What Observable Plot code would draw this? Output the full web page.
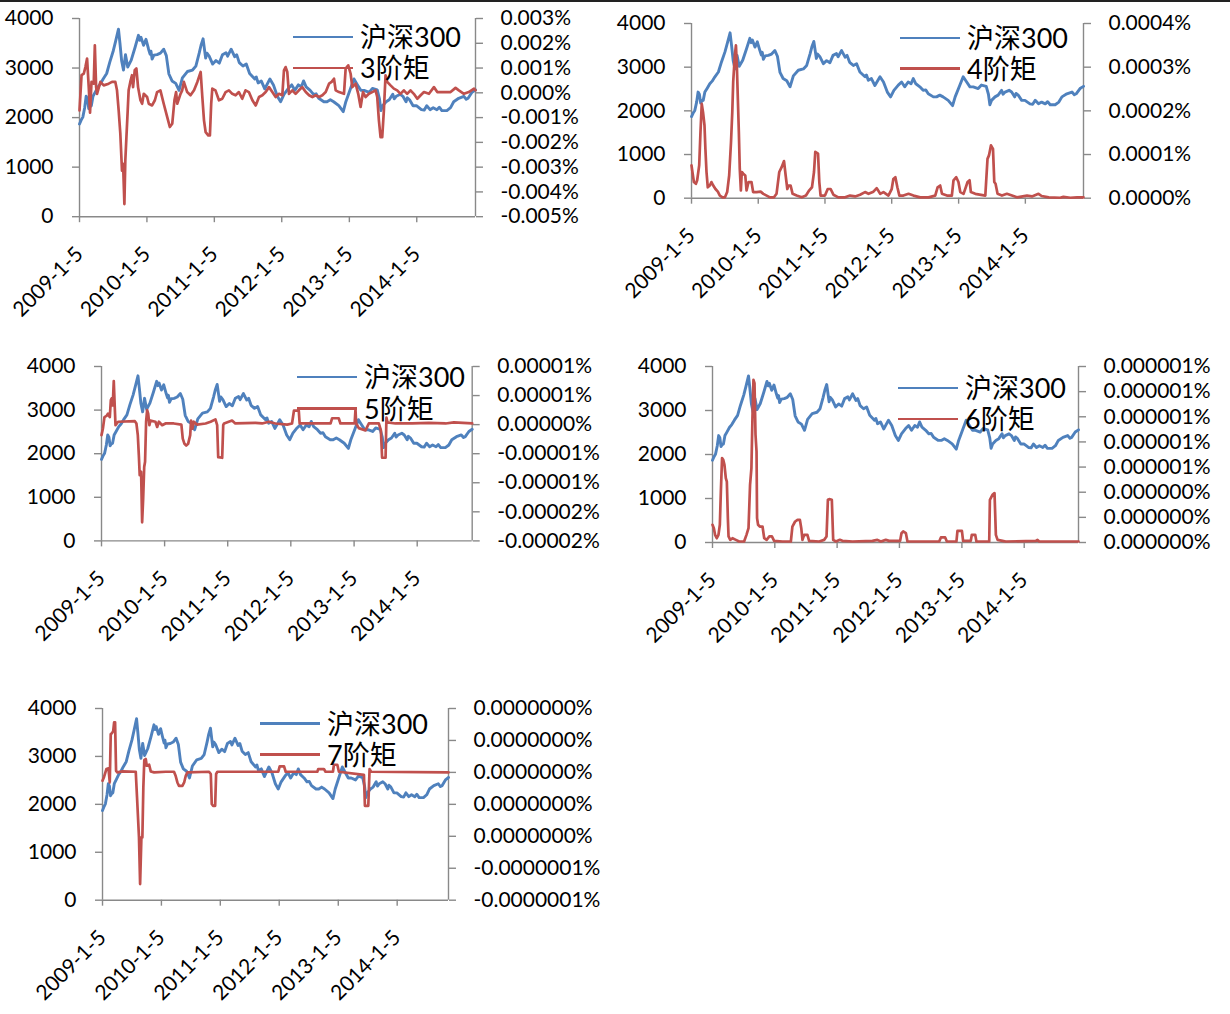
<!DOCTYPE html>
<html><head><meta charset="utf-8">
<script src="https://cdn.jsdelivr.net/npm/d3@7"></script>
<script src="https://cdn.jsdelivr.net/npm/@observablehq/plot@0.6"></script>
<style>
body{margin:0;background:#fff;}
#page{position:relative;width:1230px;height:1014px;overflow:hidden;background:#fff;font-family:Lato,"Noto Sans CJK SC",sans-serif;}
#topline{position:absolute;left:0;top:0;width:1230px;height:2px;background:#222;}
.lg{position:absolute;display:flex;align-items:center;height:34px;white-space:nowrap;}
.lg .sw{width:60px;height:2.8px;margin-right:7px;}
.lg .tx{font-size:27px;line-height:34px;color:#000;font-family:Lato,"Noto Sans CJK SC",sans-serif;}
</style></head>
<body><div id="page"><div id="topline"></div></div>
<script>
// ---------- data ----------
const xTickDates = ["2009-01-05","2010-01-05","2011-01-05","2012-01-05","2013-01-05","2014-01-05"];
const leftTicks = [0,1000,2000,3000,4000];
const seriesNames = ["沪深300","3阶矩","4阶矩","5阶矩","6阶矩","7阶矩"];

const csi300 = [["2009-01-05",1870],["2009-01-14",1950],["2009-01-23",2010],["2009-02-02",2200],["2009-02-10",2430],["2009-02-17",2380],["2009-02-24",2180],["2009-03-02",2220],["2009-03-10",2240],["2009-03-19",2430],["2009-04-01",2520],["2009-04-15",2620],["2009-04-28",2680],["2009-05-13",2780],["2009-06-01",2890],["2009-06-18",3120],["2009-07-07",3350],["2009-07-20",3550],["2009-08-04",3786],["2009-08-12",3500],["2009-08-21",3150],["2009-08-31",2960],["2009-09-11",3270],["2009-09-23",3020],["2009-10-12",3160],["2009-11-02",3420],["2009-11-20",3660],["2009-11-27",3560],["2009-12-04",3620],["2009-12-18",3460],["2009-12-31",3580],["2010-01-14",3380],["2010-01-22",3280],["2010-01-27",3340],["2010-02-02",3180],["2010-02-12",3260],["2010-03-01",3270],["2010-03-19",3300],["2010-04-06",3380],["2010-04-20",3250],["2010-05-04",2880],["2010-05-21",2740],["2010-06-10",2690],["2010-06-28",2550],["2010-07-16",2800],["2010-08-12",2930],["2010-09-09",2960],["2010-09-27",3040],["2010-10-15",3300],["2010-10-25",3460],["2010-11-05",3590],["2010-11-19",3200],["2010-11-26",3300],["2010-12-08",3240],["2010-12-27",3080],["2011-01-14",3150],["2011-02-01",3100],["2011-02-18",3270],["2011-03-09",3310],["2011-03-18",3240],["2011-04-06",3380],["2011-04-25",3230],["2011-05-06",3270],["2011-05-20",3110],["2011-06-09",3040],["2011-06-27",3080],["2011-07-15",2890],["2011-08-12",2780],["2011-08-20",2820],["2011-08-30",2700],["2011-09-16",2740],["2011-10-05",2580],["2011-11-02",2780],["2011-11-21",2660],["2011-12-12",2430],["2011-12-30",2320],["2012-01-17",2470],["2012-02-10",2590],["2012-02-28",2660],["2012-03-16",2550],["2012-04-04",2660],["2012-04-20",2620],["2012-05-02",2740],["2012-05-16",2620],["2012-06-07",2550],["2012-06-25",2470],["2012-07-09",2480],["2012-07-23",2390],["2012-08-20",2320],["2012-09-06",2320],["2012-09-24",2360],["2012-10-12",2320],["2012-11-09",2240],["2012-12-03",2120],["2012-12-17",2320],["2013-01-11",2580],["2013-01-30",2780],["2013-02-18",2660],["2013-03-08",2550],["2013-03-26",2550],["2013-04-22",2510],["2013-05-10",2590],["2013-06-05",2560],["2013-06-17",2380],["2013-06-25",2140],["2013-07-04",2240],["2013-07-23",2320],["2013-08-09",2360],["2013-08-28",2470],["2013-09-05",2380],["2013-09-16",2430],["2013-10-08",2470],["2013-10-22",2430],["2013-11-08",2320],["2013-11-15",2400],["2013-11-27",2360],["2013-12-16",2240],["2014-01-03",2240],["2014-01-30",2160],["2014-02-14",2150],["2014-02-28",2240],["2014-03-18",2160],["2014-04-04",2200],["2014-04-24",2160],["2014-05-07",2210],["2014-05-21",2140],["2014-06-17",2140],["2014-07-07",2200],["2014-07-24",2320],["2014-08-20",2390],["2014-09-17",2430],["2014-09-30",2370],["2014-10-10",2390],["2014-10-31",2510],["2014-11-19",2560]];

// 3rd moment, unit 0.001%
const m3 = [["2009-01-05",-0.71],["2009-01-16",0.71],["2009-01-28",0.77],["2009-02-06",1.04],["2009-02-15",1.38],["2009-02-24",0.23],["2009-03-03",-0.8],["2009-03-11",0.44],["2009-03-23",0.37],["2009-03-29",1.92],["2009-04-05",0.23],["2009-04-10",-0.04],["2009-04-28",0.44],["2009-05-16",0.30],["2009-06-12",0.37],["2009-06-30",0.44],["2009-07-18",0.44],["2009-07-27",0.10],["2009-08-05",-0.71],["2009-08-14",-1.65],["2009-08-23",-3.14],["2009-08-29",-2.87],["2009-09-05",-4.49],["2009-09-10",-2.73],["2009-09-16",-1.79],["2009-09-23",-0.71],["2009-09-28",0.10],["2009-10-07",0.44],["2009-10-16",0.71],["2009-10-22",0.23],["2009-10-31",0.91],["2009-11-09",0.98],["2009-11-18",0.23],["2009-12-01",-0.30],["2009-12-10",-0.44],["2009-12-19",-0.04],["2010-01-06",-0.17],["2010-01-15",-0.44],["2010-02-02",-0.51],["2010-02-17",-0.30],["2010-03-01",0.03],["2010-03-19",0.10],["2010-04-06",-0.44],["2010-04-25",-0.98],["2010-05-09",-1.38],["2010-05-22",-1.25],["2010-06-03",-0.30],["2010-06-12",0.03],["2010-06-18",-0.44],["2010-07-06",-0.04],["2010-07-15",0.10],["2010-07-24",0.44],["2010-08-11",0.03],["2010-08-29",-0.10],["2010-09-17",0.10],["2010-10-05",0.44],["2010-10-23",0.84],["2010-11-01",-0.17],["2010-11-10",-1.11],["2010-11-19",-1.59],["2010-12-03",-1.72],["2010-12-12",-1.72],["2010-12-19",-0.44],["2010-12-25",0.17],["2011-01-11",0.10],["2011-01-30",-0.30],["2011-02-17",-0.24],["2011-03-07",0.03],["2011-03-25",0.10],["2011-04-12",-0.04],["2011-04-30",-0.10],["2011-05-18",0.03],["2011-06-05",-0.24],["2011-06-23",0.10],["2011-07-11",0.03],["2011-07-30",-0.30],["2011-08-17",-0.51],["2011-09-04",-0.17],["2011-09-22",-0.10],["2011-10-10",0.03],["2011-10-28",0.23],["2011-11-15",0.03],["2011-12-03",-0.17],["2011-12-21",-0.04],["2012-01-08",-0.10],["2012-01-17",0.91],["2012-01-26",1.04],["2012-02-04",0.84],["2012-02-13",-0.04],["2012-03-02",0.10],["2012-03-20",-0.04],["2012-04-07",0.10],["2012-04-25",0.23],["2012-05-14",0.03],["2012-06-01",-0.10],["2012-06-19",-0.17],["2012-07-07",-0.10],["2012-07-25",-0.17],["2012-08-12",-0.10],["2012-08-30",0.03],["2012-09-17",0.37],["2012-10-01",0.44],["2012-10-14",0.57],["2012-10-23",0.10],["2012-11-10",0.03],["2012-12-07",-0.04],["2012-12-16",0.98],["2012-12-30",1.11],["2013-01-12",0.77],["2013-01-21",0.23],["2013-02-08",0.37],["2013-02-22",-0.04],["2013-03-07",-0.57],["2013-03-20",0.03],["2013-04-03",-0.17],["2013-04-21",-0.04],["2013-05-09",0.03],["2013-05-27",0.10],["2013-06-05",-0.17],["2013-06-14",-1.11],["2013-06-23",-1.79],["2013-07-02",-1.79],["2013-07-11",-0.71],["2013-07-20",0.71],["2013-07-29",0.44],["2013-08-16",0.30],["2013-09-03",0.17],["2013-09-21",0.10],["2013-10-09",-0.04],["2013-10-27",0.10],["2013-11-14",-0.04],["2013-12-02",0.10],["2013-12-20",-0.04],["2014-01-08",-0.24],["2014-01-26",-0.10],["2014-02-13",0.03],["2014-03-12",-0.04],["2014-04-08",0.23],["2014-04-26",0.03],["2014-05-23",0.03],["2014-06-19",0.03],["2014-07-07",0.03],["2014-08-03",0.20],["2014-08-21",0.10],["2014-09-17",-0.04],["2014-10-14",0.03],["2014-11-11",0.17],["2014-11-19",0.10]];

// 4th moment, unit 0.0001%
const m4 = [["2009-01-05",0.75],["2009-01-10",0.60],["2009-01-18",0.37],["2009-01-29",0.33],["2009-02-05",0.41],["2009-02-16",0.75],["2009-02-23",1.51],["2009-03-02",2.16],["2009-03-09",1.97],["2009-03-17",1.67],["2009-03-22",1.13],["2009-03-28",0.60],["2009-04-04",0.25],["2009-04-15",0.29],["2009-04-24",0.37],["2009-05-04",0.29],["2009-05-16",0.21],["2009-05-29",0.15],["2009-06-09",0.06],["2009-06-24",0.02],["2009-07-07",0.02],["2009-07-19",0.14],["2009-07-30",0.52],["2009-08-09",1.28],["2009-08-16",1.97],["2009-08-21",2.66],["2009-08-30",3.27],["2009-09-05",3.50],["2009-09-10",3.04],["2009-09-16",2.20],["2009-09-21",1.51],["2009-09-26",0.67],["2009-10-02",0.18],["2009-10-07",0.60],["2009-10-15",0.56],["2009-10-26",0.52],["2009-11-02",0.18],["2009-11-13",0.37],["2009-11-29",0.37],["2009-12-08",0.14],["2009-12-27",0.14],["2010-01-18",0.15],["2010-02-02",0.10],["2010-02-20",0.06],["2010-03-10",0.02],["2010-04-01",0.02],["2010-04-15",0.10],["2010-04-30",0.60],["2010-05-13",0.71],["2010-05-26",0.85],["2010-06-04",0.52],["2010-06-13",0.21],["2010-06-20",0.29],["2010-07-01",0.29],["2010-07-12",0.10],["2010-08-03",0.06],["2010-08-31",0.02],["2010-09-23",0.06],["2010-10-11",0.18],["2010-10-26",0.25],["2010-11-06",0.60],["2010-11-13",1.06],["2010-11-28",1.02],["2010-12-05",0.37],["2010-12-12",0.06],["2011-01-05",0.06],["2011-01-20",0.21],["2011-02-05",0.21],["2011-02-20",0.08],["2011-03-19",0.02],["2011-04-25",0.02],["2011-05-22",0.06],["2011-06-19",0.04],["2011-07-16",0.08],["2011-08-12",0.14],["2011-08-31",0.10],["2011-09-27",0.15],["2011-10-15",0.23],["2011-11-03",0.10],["2011-11-21",0.14],["2011-12-18",0.06],["2012-01-05",0.21],["2012-01-14",0.44],["2012-01-25",0.48],["2012-02-05",0.25],["2012-02-16",0.06],["2012-03-09",0.06],["2012-04-06",0.10],["2012-05-03",0.06],["2012-06-09",0.02],["2012-07-24",0.02],["2012-08-30",0.06],["2012-09-12",0.25],["2012-09-26",0.29],["2012-10-06",0.10],["2012-11-02",0.06],["2012-11-29",0.06],["2012-12-08",0.41],["2012-12-23",0.48],["2013-01-04",0.37],["2013-01-14",0.14],["2013-02-01",0.10],["2013-02-23",0.37],["2013-03-06",0.41],["2013-03-13",0.14],["2013-04-06",0.10],["2013-05-31",0.06],["2013-06-12",0.90],["2013-06-20",0.98],["2013-07-01",1.21],["2013-07-12",1.13],["2013-07-19",0.37],["2013-07-26",0.33],["2013-08-06",0.10],["2013-08-30",0.06],["2013-09-26",0.10],["2013-10-24",0.06],["2013-11-20",0.02],["2014-01-14",0.06],["2014-02-10",0.04],["2014-03-18",0.10],["2014-04-04",0.05],["2014-05-13",0.02],["2014-07-15",0.01],["2014-08-01",0.03],["2014-09-08",0.01],["2014-10-15",0.02],["2014-11-19",0.02]];

// 5th moment, unit 0.00001%
const m5 = [["2009-01-05",-0.18],["2009-01-13",-0.07],["2009-01-22",0.13],["2009-02-03",0.15],["2009-02-12",0.19],["2009-02-22",0.13],["2009-02-28",0.42],["2009-03-05",0.45],["2009-03-11",0.33],["2009-03-17",0.75],["2009-03-23",0.28],["2009-03-27",-0.01],["2009-04-11",0.05],["2009-07-17",0.06],["2009-07-26",0.02],["2009-08-03",-0.18],["2009-08-09",-0.53],["2009-08-14",-0.87],["2009-08-22",-0.81],["2009-08-28",-1.68],["2009-09-03",-1.27],["2009-09-09",-0.73],["2009-09-14",-0.64],["2009-09-20",0.05],["2009-09-26",0.25],["2009-10-02",0.19],["2009-10-09",-0.01],["2009-10-15",0.07],["2009-11-13",0.05],["2009-11-23",-0.04],["2009-12-03",0.05],["2009-12-22",-0.01],["2010-01-10",0.02],["2010-02-27",0.02],["2010-04-12",0],["2010-04-20",-0.24],["2010-04-30",-0.33],["2010-05-10",-0.36],["2010-05-21",-0.33],["2010-06-02",-0.18],["2010-06-07",0.07],["2010-06-15",-0.07],["2010-06-23",0.05],["2010-07-12",0],["2010-08-30",0.02],["2010-09-28",0.05],["2010-10-26",0.09],["2010-11-05",-0.01],["2010-11-11",-0.56],["2010-12-04",-0.57],["2010-12-10",-0.01],["2010-12-15",0.02],["2011-01-30",0.07],["2011-02-18",0.02],["2011-06-14",0.03],["2011-07-23",0.02],["2011-08-31",0.05],["2011-10-08",0.02],["2011-12-15",0],["2012-01-12",0.02],["2012-01-23",0.24],["2012-02-20",0.24],["2012-02-25",0.02],["2012-08-22",0.02],["2012-08-31",0.11],["2012-10-08",0.11],["2012-10-18",0.02],["2013-01-08",0.02],["2013-01-13",0.26],["2013-01-17",0.02],["2013-02-01",-0.06],["2013-03-12",-0.10],["2013-03-31",0.02],["2013-05-28",0.02],["2013-06-09",-0.10],["2013-06-16",-0.57],["2013-07-06",-0.57],["2013-07-11",0.12],["2013-07-17",0.04],["2013-09-01",0.02],["2013-12-07",0.02],["2014-03-13",0.03],["2014-06-18",0.02],["2014-08-05",0.04],["2014-11-19",0.02]];

// 6th moment, unit 0.0000001%
const m6 = [["2009-01-05",1.41],["2009-01-13",1.14],["2009-01-20",0.61],["2009-01-30",0.34],["2009-02-09",0.61],["2009-02-17",1.41],["2009-02-23",4.06],["2009-03-02",6.71],["2009-03-09",6.58],["2009-03-16",6.18],["2009-03-24",5.12],["2009-03-30",4.85],["2009-04-05",1.94],["2009-04-09",0.48],["2009-04-19",0.21],["2009-05-02",0.34],["2009-05-22",0.21],["2009-06-10",0.08],["2009-07-09",0.08],["2009-07-23",0.61],["2009-08-04",1.14],["2009-08-13",4.59],["2009-08-21",5.92],["2009-08-27",9.89],["2009-09-02",12.94],["2009-09-08",12.68],["2009-09-14",8.57],["2009-09-20",7.24],["2009-09-23",1.94],["2009-09-29",1.41],["2009-10-09",1.27],["2009-10-25",1.27],["2009-11-04",0.34],["2009-11-18",0.21],["2009-12-04",0.48],["2009-12-19",0.48],["2010-01-01",0.13],["2010-02-19",0.08],["2010-04-09",0.08],["2010-04-18",1.27],["2010-05-04",1.67],["2010-05-18",1.80],["2010-06-01",1.80],["2010-06-09",1.14],["2010-06-16",0.21],["2010-06-26",0.61],["2010-07-15",0.61],["2010-07-25",0.13],["2010-09-22",0.08],["2010-10-21",0.21],["2010-11-04",0.48],["2010-11-12",3.40],["2010-11-20",3.45],["2010-12-05",3.40],["2010-12-13",0.21],["2010-12-29",0.08],["2011-01-21",0.21],["2011-02-05",0.13],["2011-04-05",0.08],["2011-07-31",0.13],["2011-08-29",0.21],["2011-09-18",0.08],["2011-10-17",0.21],["2011-11-06",0.13],["2012-01-09",0.13],["2012-01-17",0.74],["2012-01-27",0.88],["2012-02-12",0.74],["2012-02-21",0.08],["2012-05-19",0.08],["2012-08-25",0.08],["2012-09-04",0.40],["2012-09-29",0.40],["2012-10-09",0.08],["2012-12-04",0.08],["2012-12-10",0.93],["2013-01-05",0.93],["2013-01-12",0.13],["2013-02-26",0.13],["2013-03-04",0.61],["2013-03-24",0.61],["2013-03-31",0.08],["2013-06-14",0.08],["2013-06-18",3.40],["2013-07-03",3.79],["2013-07-15",3.93],["2013-07-23",0.61],["2013-08-02",0.21],["2013-08-31",0.13],["2013-09-19",0.08],["2014-03-14",0.13],["2014-03-24",0.21],["2014-04-03",0.08],["2014-11-19",0.08]];

// 7th moment, unit 0.00000001%
const m7 = [["2009-01-05",-0.52],["2009-01-15",-0.27],["2009-01-29",0.21],["2009-02-11",0.25],["2009-02-19",-0.63],["2009-02-25",2.40],["2009-03-03",2.44],["2009-03-12",2.57],["2009-03-18",3.13],["2009-03-24",3.13],["2009-03-30",0.10],["2009-04-07",0],["2009-05-09",0.06],["2009-07-30",0.04],["2009-08-07",-1.57],["2009-08-13",-2.82],["2009-08-19",-4.07],["2009-08-26",-6.99],["2009-09-03",-4.07],["2009-09-09",-4.07],["2009-09-15",-0.94],["2009-09-21",0.77],["2009-09-30",0.84],["2009-10-06",0.42],["2009-10-21",0.48],["2009-10-31",0.06],["2009-11-21",0],["2010-02-01",0.04],["2010-03-24",0.04],["2010-04-03",-0.21],["2010-04-14",-0.63],["2010-04-24",-0.84],["2010-05-15",-0.84],["2010-05-26",-0.63],["2010-06-05",-0.21],["2010-06-15",0],["2010-10-27",0.04],["2010-11-07",-0.10],["2010-11-13",-1.98],["2010-11-21",-2.09],["2010-12-04",-2.09],["2010-12-10",-0.10],["2010-12-18",0.04],["2011-06-10",0.04],["2011-12-30",0.04],["2012-01-08",0.38],["2012-02-04",0.38],["2012-02-14",0.04],["2012-08-28",0.04],["2012-09-03",0.21],["2012-10-08",0.21],["2012-10-18",0.04],["2012-12-03",0.04],["2012-12-09",0.48],["2012-12-30",0.48],["2013-01-09",0.04],["2013-06-13",-0.15],["2013-06-19",-2.09],["2013-07-10",-2.09],["2013-07-18",0.21],["2013-07-27",0.04],["2014-11-19",0]];

// right-axis ticks (same units as the series) and their labels
const t3 = [-5,-4,-3,-2,-1,0,1,2,3];
const l3 = ["-0.005%","-0.004%","-0.003%","-0.002%","-0.001%","0.000%","0.001%","0.002%","0.003%"];
const t4 = [0,1,2,3,4];
const l4 = ["0.0000%","0.0001%","0.0002%","0.0003%","0.0004%"];
const t5 = [-2,-1.5,-1,-0.5,0,0.5,1];
const l5 = ["-0.00002%","-0.00002%","-0.00001%","-0.00001%","0.00000%","0.00001%","0.00001%"];
const t6 = [0,2,4,6,8,10,12,14];
const l6 = ["0.000000%","0.000000%","0.000000%","0.000001%","0.000001%","0.000001%","0.000001%","0.000001%"];
const t7 = [-8,-6,-4,-2,0,2,4];
const l7 = ["-0.0000001%","-0.0000001%","0.0000000%","0.0000000%","0.0000000%","0.0000000%","0.0000000%"];

// ---------- drawing ----------
const parse = d3.utcParse("%Y-%m-%d");
const toRows = arr => arr.map(([d, v]) => ({date: parse(d), value: v}));
const csiRows = toRows(csi300);
const xStart = csiRows[0].date, xEnd = csiRows[csiRows.length - 1].date;
const xTicks = xTickDates.map(parse);
const BLUE = "#4F81BD", RED = "#C0504D", AXIS = "#898989";
const FONT = 'Lato, "Noto Sans CJK SC", sans-serif';
const page = document.getElementById("page");

const panels = [
  {l:79,    r:475,    t:18.3,  b:216.5, data:m3, ticks:t3, labels:l3, name:seriesNames[1], lgX:293, lgB:37,    lgR:68},
  {l:691,   r:1083,   t:23,    b:197.7, data:m4, ticks:t4, labels:l4, name:seriesNames[2], lgX:900, lgB:38,    lgR:68.5},
  {l:101,   r:471.7,  t:366.3, b:540.7, data:m5, ticks:t5, labels:l5, name:seriesNames[3], lgX:297, lgB:377,   lgR:408.5},
  {l:711.7, r:1077.7, t:366.3, b:542.3, data:m6, ticks:t6, labels:l6, name:seriesNames[4], lgX:898, lgB:388,   lgR:419},
  {l:101.7, r:447.7,  t:708.3, b:900,   data:m7, ticks:t7, labels:l7, name:seriesNames[5], lgX:260, lgB:723.5, lgR:754.5}
];

const mL = 80, mR = 140, mT = 20, mB = 110;
for (const p of panels) {
  const rmin = p.ticks[0], rmax = p.ticks[p.ticks.length - 1];
  const toLeft = v => (v - rmin) / (rmax - rmin) * 4000;
  const rPos = p.ticks.map(toLeft);
  const rows = toRows(p.data);
  const W = p.r - p.l, H = p.b - p.t;
  const chart = Plot.plot({
    width: W + mL + mR, height: H + mT + mB,
    marginLeft: mL, marginRight: mR, marginTop: mT, marginBottom: mB,
    style: {fontFamily: FONT, fontSize: "21px", background: "transparent", overflow: "visible", color: "#000"},
    x: {type: "utc", domain: [xStart, xEnd]},
    y: {domain: [0, 4000]},
    marks: [
      Plot.ruleY([0], {stroke: AXIS, strokeWidth: 1.4}),
      Plot.ruleX([xStart, xEnd], {stroke: AXIS, strokeWidth: 1.4}),
      Plot.axisY(leftTicks, {anchor: "left", tickSize: 7, tickPadding: 19, stroke: AXIS, strokeWidth: 1.4, fill: "#000", tickFormat: d => `${d}`, label: null}),
      Plot.axisY(rPos, {anchor: "right", tickSize: 7, tickPadding: 18, stroke: AXIS, strokeWidth: 1.4, fill: "#000", tickFormat: d => p.labels[rPos.indexOf(d)], label: null}),
      Plot.axisX(xTicks, {anchor: "bottom", tickSize: 6, tickPadding: 28, tickRotate: -45, stroke: AXIS, strokeWidth: 1.4, fill: "#000",
        tickFormat: d => `${d.getUTCFullYear()}-${d.getUTCMonth() + 1}-${d.getUTCDate()}`, label: null}),
      Plot.line(csiRows, {x: "date", y: "value", stroke: BLUE, strokeWidth: 2.9, strokeLinejoin: "round"}),
      Plot.line(rows, {x: "date", y: d => toLeft(d.value), stroke: RED, strokeWidth: 2.7, strokeLinejoin: "round"})
    ]
  });
  chart.style.position = "absolute";
  chart.style.left = (p.l - mL) + "px";
  chart.style.top = (p.t - mT) + "px";
  chart.style.maxWidth = "none";
  page.appendChild(chart);
}

// legends (overlaid in the plot area like the original)
for (const p of panels) {
  for (const [name, color, cy] of [[seriesNames[0], BLUE, p.lgB], [p.name, RED, p.lgR]]) {
    const div = document.createElement("div");
    div.className = "lg";
    div.style.left = p.lgX + "px";
    div.style.top = (cy - 17) + "px";
    div.innerHTML = `<span class="sw" style="background:${color}"></span><span class="tx">${name}</span>`;
    page.appendChild(div);
  }
}
</script></body></html>
